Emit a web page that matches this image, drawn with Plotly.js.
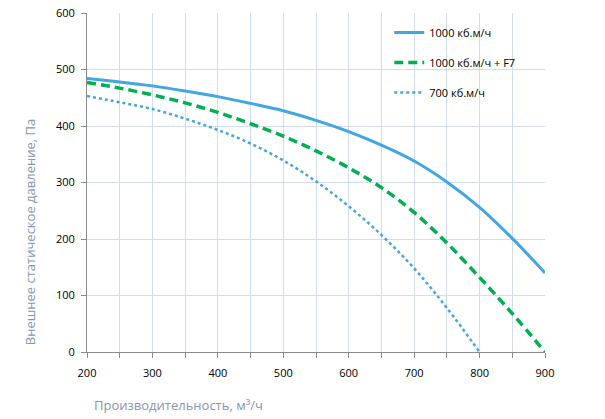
<!DOCTYPE html>
<html>
<head>
<meta charset="utf-8">
<script src="https://cdn.plot.ly/plotly-3.0.1.min.js"></script>
<style>html,body{margin:0;padding:0;background:#fff;}#chart{width:605px;height:419px;}</style>
</head>
<body>
<div id="chart"></div>
<script>
const flow = [200, 250, 300, 350, 400, 450, 500, 550, 600, 650, 700, 750, 800, 850, 900];
const p1000 = [484, 478, 471, 462, 452, 440, 427, 410, 390, 366, 338, 301, 256, 201, 140];
const p1000F7 = [477, 467, 455, 441, 424, 404, 382, 356, 326, 291, 247, 193, 132, 68, 0];
const flow700 = [200, 250, 300, 350, 400, 450, 500, 550, 600, 650, 700, 750, 800];
const p700 = [453, 442, 430, 413, 393, 369, 339, 302, 258, 207, 148, 78, 0];
const names = ['1000 кб.м/ч', '1000 кб.м/ч + F7', '700 кб.м/ч'];
const xTitle = 'Производительность, м³/ч';
const yTitle = 'Внешнее статическое давление, Па';

const traces = [
  {x: flow, y: p1000, name: names[0], mode: 'lines', legendgroup: 'a',
   line: {color: '#41a6e2', width: 3, shape: 'spline', smoothing: 1}},
  {x: flow, y: p1000F7, name: names[1], mode: 'lines', legendgroup: 'b',
   line: {color: '#00b050', width: 3.5, dash: '9px,5px', shape: 'spline', smoothing: 1}},
  {x: flow700, y: p700, name: names[2], mode: 'lines', legendgroup: 'c',
   line: {color: '#41a6e2', width: 2.5, dash: 'dot', shape: 'spline', smoothing: 1}}
];

const layout = {
  width: 605, height: 419,
  margin: {l: 87, r: 60, t: 13, b: 67},
  paper_bgcolor: '#ffffff', plot_bgcolor: '#ffffff',
  font: {family: 'Open Sans, sans-serif', size: 11, color: '#000000'},
  showlegend: true,
  legend: {x: 0.66, y: 0.985, xanchor: 'left', yanchor: 'top', bgcolor: 'rgba(255,255,255,0)',
           font: {size: 11, color: '#000'}, tracegroupgap: 11, itemwidth: 30},
  xaxis: {range: [200, 900], dtick: 100, tick0: 200, showline: true, linecolor: '#8c8c8c', linewidth: 1,
          ticks: 'outside', ticklen: 5, tickcolor: '#8c8c8c', showgrid: true, gridcolor: '#d0def0', gridwidth: 1,
          minor: {dtick: 50, ticks: 'outside', ticklen: 5, tickcolor: '#8c8c8c', showgrid: true, gridcolor: '#d0def0'},
          zeroline: false, tickfont: {size: 11}, ticklabelstandoff: 6},
  yaxis: {range: [0, 600], dtick: 100, showline: true, linecolor: '#8c8c8c', linewidth: 1,
          ticks: 'outside', ticklen: 5, tickcolor: '#8c8c8c', showgrid: true, gridcolor: '#d0def0', gridwidth: 1,
          zeroline: false, tickfont: {size: 11}, ticklabelstandoff: 4},
  annotations: [
    {text: xTitle, xref: 'paper', yref: 'paper', x: 0.199, y: -0.156, xanchor: 'center', yanchor: 'middle',
     showarrow: false, font: {size: 13, color: '#8497b0'}},
    {text: yTitle, xref: 'paper', yref: 'paper', x: -0.124, y: 0.354, xanchor: 'center', yanchor: 'middle',
     textangle: -90, showarrow: false, font: {size: 13, color: '#8497b0'}}
  ]
};

Plotly.newPlot('chart', traces, layout, {displayModeBar: false, staticPlot: true});
</script>
</body>
</html>
